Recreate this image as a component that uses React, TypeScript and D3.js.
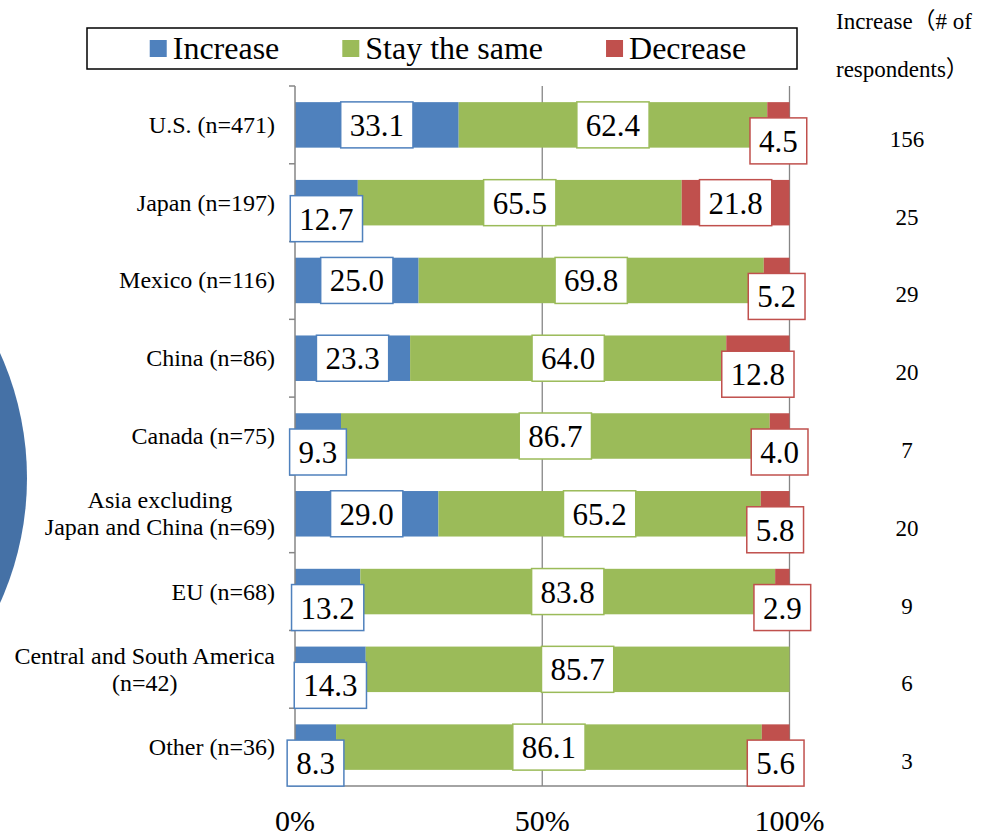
import React, { useEffect, useRef } from 'react';
import * as d3 from 'd3';

const categories = [
  'U.S. (n=471)',
  'Japan (n=197)',
  'Mexico (n=116)',
  'China (n=86)',
  'Canada (n=75)',
  'Asia excluding\nJapan and China (n=69)',
  'EU (n=68)',
  'Central and South America\n(n=42)',
  'Other (n=36)',
];
const increase = [33.1, 12.7, 25.0, 23.3, 9.3, 29.0, 13.2, 14.3, 8.3];
const stayTheSame = [62.4, 65.5, 69.8, 64.0, 86.7, 65.2, 83.8, 85.7, 86.1];
const decrease = [4.5, 21.8, 5.2, 12.8, 4.0, 5.8, 2.9, 0, 5.6];
const increaseCounts = [156, 25, 29, 20, 7, 20, 9, 6, 3];
const seriesNames = ['Increase', 'Stay the same', 'Decrease'];
const seriesColors = ['#4F81BD', '#9BBB59', '#C0504D'];
const xTicks = [0, 0.5, 1];
const headerLines = ['Increase（# of', 'respondents）'];

const SERIF = '"Liberation Serif", "Times New Roman", "Noto Sans CJK JP", serif';

export default function App() {
  const ref = useRef<SVGSVGElement>(null);

  useEffect(() => {
    const svg = d3.select(ref.current);
    svg.selectAll('*').remove();

    // decorative circle at left
    svg.append('circle').attr('cx', -276).attr('cy', 478).attr('r', 303).attr('fill', '#4571A6');

    const top = 86, bottom = 786;
    const x = d3.scaleLinear().domain([0, 1]).range([295, 789.5]);
    const y = d3.scaleBand<string>().domain(categories).range([top, bottom]).paddingInner(0.415).paddingOuter(0.2075);
    const step = y.step();

    const rows = categories.map((c, i) => ({ cat: c, Increase: increase[i], 'Stay the same': stayTheSame[i], Decrease: decrease[i] }));
    const stack = d3.stack<any>().keys(seriesNames).offset(d3.stackOffsetExpand);
    const series = stack(rows);

    // gridlines
    svg.append('g').selectAll('line').data(xTicks.filter(t => t > 0)).join('line')
      .attr('x1', d => x(d)).attr('x2', d => x(d)).attr('y1', top).attr('y2', bottom)
      .attr('stroke', '#868686').attr('stroke-width', 1.3);

    // bars
    series.forEach((s, si) => {
      svg.append('g').selectAll('rect').data(s).join('rect')
        .attr('x', d => x(d[0]))
        .attr('width', d => Math.max(0, x(d[1]) - x(d[0])))
        .attr('y', d => y(d.data.cat)!)
        .attr('height', y.bandwidth())
        .attr('fill', seriesColors[si]);
    });

    // axes
    const ax = svg.append('g').attr('stroke', '#868686').attr('stroke-width', 1.5);
    ax.append('line').attr('x1', x(0)).attr('x2', x(0)).attr('y1', top).attr('y2', bottom);
    ax.append('line').attr('x1', x(0)).attr('x2', x(1)).attr('y1', bottom).attr('y2', bottom);
    d3.range(categories.length + 1).forEach(i => {
      ax.append('line').attr('x1', x(0) - 6).attr('x2', x(0)).attr('y1', top + i * step).attr('y2', top + i * step);
    });

    // x tick labels
    svg.append('g').selectAll('text').data(xTicks).join('text')
      .attr('x', d => x(d)).attr('y', 831).attr('text-anchor', 'middle')
      .attr('font-family', SERIF).attr('font-size', 30).attr('fill', '#000')
      .text(d => d3.format('.0%')(d));

    // category labels (multi-line centered block, right aligned)
    const catG = svg.append('g');
    categories.forEach(c => {
      const lines = c.split('\n');
      const cy = y(c)! + y.bandwidth() / 2;
      const g = catG.append('g');
      const lh = 27;
      const texts = lines.map((ln, li) => g.append('text')
        .attr('y', cy + (li - (lines.length - 1) / 2) * lh + 8)
        .attr('text-anchor', 'middle')
        .attr('font-family', SERIF).attr('font-size', 24).attr('fill', '#000')
        .text(ln));
      const w = Math.max(...texts.map(t => (t.node() as SVGTextElement).getComputedTextLength()));
      texts.forEach(t => t.attr('x', 275 - w / 2));
    });

    // data labels
    const lblG = svg.append('g');
    const fs = 31, padX = 9, boxH = 46;
    series.forEach((s, si) => {
      s.forEach((d, i) => {
        const raw = [increase, stayTheSame, decrease][si][i];
        if (!raw) return;
        const x0 = x(d[0]), x1 = x(d[1]);
        const cx = (x0 + x1) / 2;
        const g = lblG.append('g');
        const rect = g.append('rect');
        const t = g.append('text')
          .attr('text-anchor', 'middle')
          .attr('font-family', SERIF).attr('font-size', fs).attr('fill', '#000')
          .text(raw.toFixed(1));
        const tw = (t.node() as SVGTextElement).getComputedTextLength();
        const bw = tw + padX * 2;
        let cy = y(d.data.cat)! + y.bandwidth() / 2;
        if (x1 - x0 < bw) cy += 16;
        t.attr('x', cx).attr('y', cy + 11);
        rect.attr('x', cx - bw / 2).attr('y', cy - boxH / 2).attr('width', bw).attr('height', boxH)
          .attr('fill', '#fff').attr('stroke', seriesColors[si]).attr('stroke-width', 1.5);
      });
    });

    // right column
    svg.append('g').selectAll('text').data(increaseCounts).join('text')
      .attr('x', 907).attr('y', (d, i) => y(categories[i])! + y.bandwidth() / 2 + 14 + 8)
      .attr('text-anchor', 'middle')
      .attr('font-family', SERIF).attr('font-size', 23).attr('fill', '#000')
      .text(d => String(d));
    svg.append('g').selectAll('text').data(headerLines).join('text')
      .attr('x', 836).attr('y', (d, i) => 29 + i * 48)
      .attr('font-family', SERIF).attr('font-size', 23).attr('fill', '#000')
      .text(d => d);

    // legend
    const lg = svg.append('g');
    lg.append('rect').attr('x', 87).attr('y', 28).attr('width', 710).attr('height', 41)
      .attr('fill', '#fff').attr('stroke', '#000').attr('stroke-width', 1.5);
    const sq = 17, gapSq = 6, gapItem = 63;
    const items = seriesNames.map((n, i) => {
      const gi = lg.append('g');
      gi.append('rect').attr('width', sq).attr('height', sq).attr('y', 48.5 - sq / 2).attr('fill', seriesColors[i]);
      const t = gi.append('text').attr('x', sq + gapSq).attr('y', 48.5 + 10.5)
        .attr('font-family', SERIF).attr('font-size', 32).attr('fill', '#000').text(n);
      const w = sq + gapSq + (t.node() as SVGTextElement).getComputedTextLength();
      return { gi, w };
    });
    const total = d3.sum(items, d => d.w) + gapItem * (items.length - 1);
    let cur = 448 - total / 2;
    items.forEach(it => {
      it.gi.attr('transform', `translate(${cur},0)`);
      cur += it.w + gapItem;
    });
  }, []);

  return (
    <svg ref={ref} width={984} height={838}
      style={{ position: 'absolute', left: 0, top: 0, background: '#fff' }} />
  );
}
